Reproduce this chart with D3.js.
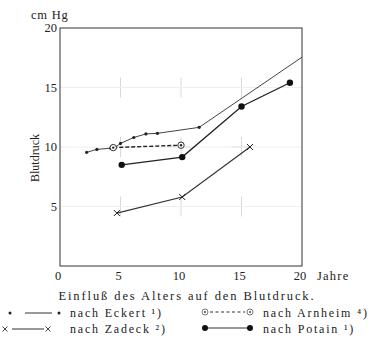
<!DOCTYPE html>
<meta charset="utf-8">
<head>
<script src="https://d3js.org/d3.v7.min.js"></script>
<style>
  body { margin: 0; background: #fff; }
  text { font-family: "Liberation Serif", "DejaVu Serif", serif; fill: #222; }
</style>
</head>
<body>
<script>
// Blutdruck (cm Hg) nach Alter (Jahre)
var eckert = [[2.2, 9.55], [3.05, 9.8], [4.2, 9.9], [4.6, 10.0], [5.0, 10.3], [6.1, 10.8],
              [7.1, 11.1], [8.05, 11.15], [11.5, 11.65], [20, 17.55]];
var arnheim = [[4.4, 9.95], [10.0, 10.15]];
var zadeck = [[4.7, 4.45], [10.1, 5.8], [15.7, 10.0]];
var potain = [[5.1, 8.5], [10.1, 9.15], [15.0, 13.4], [19.0, 15.4]];
var xTicks = [0, 5, 10, 15, 20];
var yTicks = [5, 10, 15, 20];
var gridX = [5, 10, 15];
var gridY = [5, 10, 15];

var width = 370, height = 340;
var svg = d3.select("body").append("svg")
  .attr("width", width).attr("height", height);

var x = d3.scaleLinear().domain([0, 20]).range([60, 302]);
var y = d3.scaleLinear().domain([0, 20]).range([266, 28]);

// faint grid crosses
gridX.forEach(function(gx) {
  gridY.forEach(function(gy) {
    svg.append("line").attr("x1", x(gx) - 10).attr("x2", x(gx) + 10)
      .attr("y1", y(gy)).attr("y2", y(gy)).attr("stroke", "#d8d8d8").attr("stroke-width", 1);
    svg.append("line").attr("x1", x(gx)).attr("x2", x(gx))
      .attr("y1", y(gy) - 10).attr("y2", y(gy) + 10).attr("stroke", "#d8d8d8").attr("stroke-width", 1);
  });
});
gridY.forEach(function(gy) {
  svg.append("line").attr("x1", x(0)).attr("x2", x(20))
    .attr("y1", y(gy)).attr("y2", y(gy)).attr("stroke", "#efefef");
});

// frame
svg.append("rect").attr("x", x(0)).attr("y", y(20))
  .attr("width", x(20) - x(0)).attr("height", y(0) - y(20))
  .attr("fill", "none").attr("stroke", "#333").attr("stroke-width", 1);

// axes labels
svg.selectAll(".yt").data(yTicks).enter().append("text")
  .attr("x", 57).attr("y", function(d) { return y(d) + 4; })
  .attr("text-anchor", "end").style("font-size", "12.5px").text(function(d) { return d; });
svg.selectAll(".xt").data(xTicks).enter().append("text")
  .attr("x", function(d) { return x(d) - 2; }).attr("y", 280)
  .attr("text-anchor", "middle").style("font-size", "12.5px").text(function(d) { return d; });
svg.append("text").attr("x", 317).attr("y", 280).style("font-size", "12.5px")
  .style("letter-spacing", "1.2px").text("Jahre");
svg.append("text").attr("x", 31).attr("y", 19).style("font-size", "12.5px")
  .style("letter-spacing", "0.8px").text("cm  Hg");
svg.append("text").attr("transform", "translate(39,158) rotate(-90)")
  .attr("text-anchor", "middle").style("font-size", "12px").text("Blutdruck");

var line = d3.line().x(function(d) { return x(d[0]); }).y(function(d) { return y(d[1]); });

// series
svg.append("path").datum(eckert).attr("d", line).attr("fill", "none").attr("stroke", "#444").attr("stroke-width", 1);
svg.selectAll(".ec").data(eckert.slice(0, 9)).enter().append("circle")
  .attr("cx", function(d) { return x(d[0]); }).attr("cy", function(d) { return y(d[1]); })
  .attr("r", 1.6).attr("fill", "#222");

svg.append("path").datum(arnheim).attr("d", line).attr("fill", "none").attr("stroke", "#222")
  .attr("stroke-width", 1.4).attr("stroke-dasharray", "4,2");
svg.selectAll(".ar").data(arnheim).enter().append("circle")
  .attr("cx", function(d) { return x(d[0]); }).attr("cy", function(d) { return y(d[1]); })
  .attr("r", 3.2).attr("fill", "#fff").attr("stroke", "#333").attr("stroke-width", 1);
svg.selectAll(".ar2").data(arnheim).enter().append("circle")
  .attr("cx", function(d) { return x(d[0]); }).attr("cy", function(d) { return y(d[1]); })
  .attr("r", 1.2).attr("fill", "#222");

svg.append("path").datum(zadeck).attr("d", line).attr("fill", "none").attr("stroke", "#333").attr("stroke-width", 1.2);
svg.selectAll(".za").data(zadeck).enter().append("path")
  .attr("transform", function(d) { return "translate(" + x(d[0]) + "," + y(d[1]) + ")"; })
  .attr("d", "M-3,-3L3,3M-3,3L3,-3").attr("stroke", "#222").attr("stroke-width", 1);

svg.append("path").datum(potain).attr("d", line).attr("fill", "none").attr("stroke", "#222").attr("stroke-width", 1.3);
svg.selectAll(".po").data(potain).enter().append("circle")
  .attr("cx", function(d) { return x(d[0]); }).attr("cy", function(d) { return y(d[1]); })
  .attr("r", 3.2).attr("fill", "#111");

// caption
svg.append("text").attr("x", 187).attr("y", 300).attr("text-anchor", "middle")
  .style("font-size", "12.5px").style("letter-spacing", "1.9px")
  .text("Einfluß des Alters auf den Blutdruck.");

// legend
var leg = svg.append("g").style("font-size", "12px").style("letter-spacing", "1.8px");
function legLine(x1, x2, yy, dash) {
  leg.append("line").attr("x1", x1).attr("x2", x2).attr("y1", yy).attr("y2", yy)
    .attr("stroke", "#333").attr("stroke-width", 1).attr("stroke-dasharray", dash || null);
}
// Eckert
legLine(25, 52, 313);
leg.append("circle").attr("cx", 10).attr("cy", 313).attr("r", 1.5).attr("fill", "#222");
leg.append("circle").attr("cx", 59).attr("cy", 313).attr("r", 1.5).attr("fill", "#222");
leg.append("text").attr("x", 70).attr("y", 317).text("nach Eckert ¹)");
// Arnheim
legLine(210, 245, 312, "3,2.5");
[205, 250].forEach(function(cx) {
  leg.append("circle").attr("cx", cx).attr("cy", 312).attr("r", 3).attr("fill", "#fff").attr("stroke", "#777");
  leg.append("circle").attr("cx", cx).attr("cy", 312).attr("r", 1).attr("fill", "#444");
});
leg.append("text").attr("x", 263).attr("y", 317).text("nach Arnheim ⁴)");
// Zadeck
legLine(12, 44, 329);
[5, 48].forEach(function(cx) {
  leg.append("path").attr("transform", "translate(" + cx + ",329)")
    .attr("d", "M-2.5,-2.5L2.5,2.5M-2.5,2.5L2.5,-2.5").attr("stroke", "#444");
});
leg.append("text").attr("x", 70).attr("y", 333).text("nach Zadeck ²)");
// Potain
legLine(205, 250, 328);
[205, 250].forEach(function(cx) {
  leg.append("circle").attr("cx", cx).attr("cy", 328).attr("r", 3).attr("fill", "#111");
});
leg.append("text").attr("x", 263).attr("y", 333).text("nach Potain ¹)");
</script>
</body>
